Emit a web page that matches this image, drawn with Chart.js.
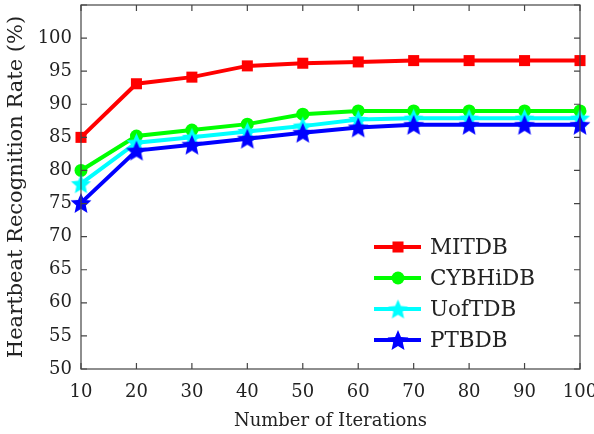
<!DOCTYPE html>
<html>
<head>
<meta charset="utf-8">
<script src="https://cdn.jsdelivr.net/npm/chart.js@4.4.0/dist/chart.umd.min.js"></script>
<style>
  html, body { margin: 0; padding: 0; background: #fff; }
  #wrap { width: 594px; height: 434px; }
</style>
</head>
<body>
<div id="wrap"><canvas id="chart"></canvas></div>
<script>
// Data
const iterations = [10, 20, 30, 40, 50, 60, 70, 80, 90, 100];
const mitdb   = [85.0, 93.1, 94.1, 95.8, 96.2, 96.4, 96.6, 96.6, 96.6, 96.6];
const cybhidb = [80.0, 85.2, 86.1, 87.0, 88.5, 89.0, 89.0, 89.0, 89.0, 89.0];
const uoftdb  = [78.0, 84.2, 85.0, 85.9, 86.7, 87.7, 87.9, 87.9, 87.9, 87.9];
const ptbdb   = [75.1, 83.0, 83.9, 84.8, 85.7, 86.5, 86.9, 86.9, 86.9, 86.9];
const seriesNames = ['MITDB', 'CYBHiDB', 'UofTDB', 'PTBDB'];
const xTicks = [10, 20, 30, 40, 50, 60, 70, 80, 90, 100];
const yTicks = [50, 55, 60, 65, 70, 75, 80, 85, 90, 95, 100, 105];

const FONT = '"DejaVu Serif", serif';
const TEXT = '#222';
const FRAME = '#444';

// filled five point star used as a point style
function makeStar(color, r) {
  const s = Math.ceil(r * 2 + 2);
  const c = document.createElement('canvas');
  c.width = s; c.height = s;
  const g = c.getContext('2d');
  g.beginPath();
  for (let i = 0; i < 10; i++) {
    const rad = i % 2 === 0 ? r : r * 0.46;
    const a = -Math.PI / 2 + i * Math.PI / 5;
    g.lineTo(s / 2 + rad * Math.cos(a), s / 2 + 1 + rad * Math.sin(a));
  }
  g.closePath();
  g.fillStyle = color;
  g.fill();
  return c;
}

function toPoints(values) {
  return iterations.map((x, i) => ({x: x, y: values[i]}));
}

const styles = [
  {color: '#ff0000', pointStyle: 'rect', radius: 7.8},
  {color: '#00ff00', pointStyle: 'circle', radius: 6.5},
  {color: '#00ffff', pointStyle: makeStar('#00ffff', 10.5), radius: 10.5},
  {color: '#0000ff', pointStyle: makeStar('#0000ff', 11), radius: 11}
];

const datasets = [mitdb, cybhidb, uoftdb, ptbdb].map((values, i) => ({
  label: seriesNames[i],
  data: toPoints(values),
  borderColor: styles[i].color,
  backgroundColor: styles[i].color,
  pointBackgroundColor: styles[i].color,
  pointBorderColor: styles[i].color,
  pointBorderWidth: 0,
  pointStyle: styles[i].pointStyle,
  pointRadius: styles[i].radius,
  borderWidth: 4,
  tension: 0,
  clip: 12,
  order: 4 - i
}));

// box round the plot with inward ticks on all four sides
const framePlugin = {
  id: 'frame',
  afterDraw(chart) {
    const {ctx, chartArea: a, scales} = chart;
    ctx.save();
    ctx.strokeStyle = FRAME;
    ctx.lineWidth = 1.2;
    ctx.strokeRect(a.left, a.top, a.right - a.left, a.bottom - a.top);
    ctx.beginPath();
    xTicks.forEach(v => {
      const px = scales.x.getPixelForValue(v);
      ctx.moveTo(px, a.bottom); ctx.lineTo(px, a.bottom - 6);
      ctx.moveTo(px, a.top); ctx.lineTo(px, a.top + 6);
    });
    yTicks.forEach(v => {
      const py = scales.y.getPixelForValue(v);
      ctx.moveTo(a.left, py); ctx.lineTo(a.left + 6, py);
      ctx.moveTo(a.right, py); ctx.lineTo(a.right - 6, py);
    });
    ctx.stroke();
    ctx.restore();
  }
};

// legend drawn inside the plot, line with marker in the middle
const legendPlugin = {
  id: 'insideLegend',
  afterDraw(chart) {
    const {ctx, chartArea: a} = chart;
    const x0 = a.right - 206, x1 = a.right - 159, xm = a.right - 182, xt = a.right - 150;
    const y0 = a.bottom - 122, step = 31;
    ctx.save();
    ctx.font = '21.5px ' + FONT;
    ctx.textBaseline = 'middle';
    chart.data.datasets.forEach((ds, i) => {
      const y = y0 + i * step;
      ctx.strokeStyle = ds.borderColor;
      ctx.lineWidth = 4;
      ctx.beginPath();
      ctx.moveTo(x0, y); ctx.lineTo(x1, y);
      ctx.stroke();
      ctx.fillStyle = ds.borderColor;
      Chart.helpers.drawPoint(ctx, {pointStyle: ds.pointStyle, radius: ds.pointRadius, rotation: 0, borderWidth: 0}, xm, y);
      ctx.fillStyle = TEXT;
      ctx.fillText(ds.label, xt, y + 1);
    });
    ctx.restore();
  }
};

document.addEventListener('DOMContentLoaded', function () {
  if (typeof Chart === 'undefined') {
    console.error('Chart.js is not loaded');
    return;
  }
  new Chart(document.getElementById('chart'), {
    type: 'line',
    data: {datasets: datasets},
    options: {
      responsive: true,
      maintainAspectRatio: false,
      animation: false,
      layout: {autoPadding: false, padding: {top: 5, right: 14, left: 0, bottom: 0}},
      plugins: {
        legend: {display: false},
        tooltip: {enabled: false}
      },
      scales: {
        x: {
          type: 'linear',
          min: 10, max: 100,
          afterBuildTicks: s => { s.ticks = xTicks.map(v => ({value: v})); },
          afterFit: s => { s.height = 65; s.paddingLeft = 0; s.paddingRight = 0; },
          grid: {display: false, drawTicks: false},
          border: {display: false},
          ticks: {color: TEXT, padding: 13, maxRotation: 0, font: {family: FONT, size: 18}},
          title: {display: true, text: 'Number of Iterations', color: TEXT,
                  padding: {top: 0, bottom: 2}, font: {family: FONT, size: 18}}
        },
        y: {
          min: 50, max: 105,
          afterBuildTicks: s => { s.ticks = yTicks.map(v => ({value: v})); },
          afterFit: s => { s.width = 81; s.paddingTop = 0; s.paddingBottom = 0; },
          grid: {display: false, drawTicks: false},
          border: {display: false},
          ticks: {color: TEXT, padding: 9, font: {family: FONT, size: 18},
                  callback: v => (v > 100 ? '' : v)},
          title: {display: true, text: 'Heartbeat Recognition Rate (%)', color: TEXT,
                  padding: {top: 4, bottom: 0}, font: {family: FONT, size: 21}}
        }
      }
    },
    plugins: [framePlugin, legendPlugin]
  });
});
</script>
</body>
</html>
